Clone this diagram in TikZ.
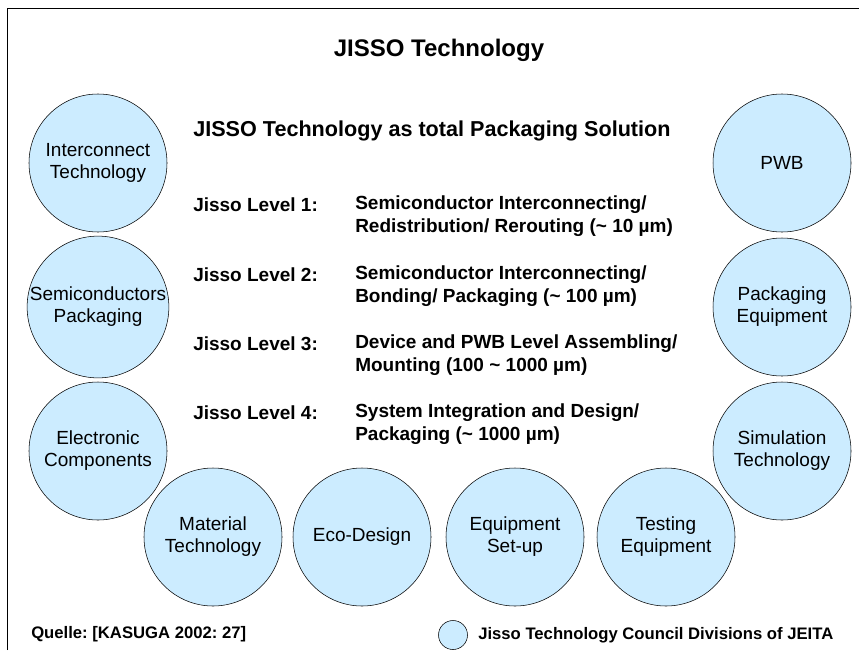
\documentclass[tikz,border=0pt]{standalone}
\usepackage{fontspec}
\setmainfont{Liberation Sans}
\frenchspacing
\definecolor{divblue}{HTML}{CCECFF}
\tikzset{
  division/.style={circle, draw, thin, fill=divblue, minimum size=103.5pt, inner sep=0pt,
    align=center, font=\fontsize{14.25}{16.5}\selectfont},
  lvlname/.style={anchor=west, inner sep=0pt, font=\bfseries\fontsize{14.25}{17.25}\selectfont},
  lvltext/.style={anchor=west, inner sep=0pt, align=left, font=\bfseries\fontsize{14.25}{17.25}\selectfont},
  smallbold/.style={anchor=west, inner sep=0pt, font=\bfseries\fontsize{12.5}{15}\selectfont},
}
\begin{document}
\begin{tikzpicture}[x=0.75pt, y=-0.75pt]
        \useasboundingbox (0,0) rectangle (859,650);
        % Frame
        \draw (7,650) -- (7,8) -- (859,8);

        % Headings
        \node (title) at (439,50) {\bfseries\fontsize{18}{21}\selectfont JISSO Technology};
        \node (subtitle) at (193,131) [anchor=west, inner sep=0pt]
            {\bfseries\fontsize{16.2}{19}\selectfont JISSO Technology as total Packaging Solution};

        % Jisso levels
        \node (l1) at (193,205) [lvlname] {Jisso Level 1:};
        \node (d1) at (355,216.5) [lvltext] {Semiconductor Interconnecting/\\Redistribution/ Rerouting (\textasciitilde{} 10 µm)};
        \node (l2) at (193,275) [lvlname] {Jisso Level 2:};
        \node (d2) at (355,286) [lvltext] {Semiconductor Interconnecting/\\Bonding/ Packaging (\textasciitilde{} 100 µm)};
        \node (l3) at (193,344) [lvlname] {Jisso Level 3:};
        \node (d3) at (355,355.5) [lvltext] {Device and PWB Level Assembling/\\Mounting (100 \textasciitilde{} 1000 µm)};
        \node (l4) at (193,413) [lvlname] {Jisso Level 4:};
        \node (d4) at (355,424.5) [lvltext] {System Integration and Design/\\Packaging (\textasciitilde{} 1000 µm)};

        % Council divisions
        \node (interconnect) at (98,163) [division] {Interconnect\\Technology};
        \node (semipack) at (98,307) [division] {Semiconductors\\Packaging};
        \node (electronic) at (98,451) [division] {Electronic\\Components};
        \node (material) at (213,537) [division] {Material\\Technology};
        \node (eco) at (362,537) [division] {Eco-Design};
        \node (setup) at (515,537) [division] {Equipment\\Set-up};
        \node (testing) at (666,537) [division] {Testing\\Equipment};
        \node (simulation) at (782,451) [division] {Simulation\\Technology};
        \node (packequip) at (782,307) [division] {Packaging\\Equipment};
        \node (pwb) at (782,163) [division] {PWB};

        % Source and legend
        \node (source) at (31,634) [smallbold] {Quelle: [KASUGA 2002: 27]};
        \node (legend) at (453,635) [division, minimum size=21.75pt] {};
        \node (legendtext) at (478,635) [smallbold] {Jisso Technology Council Divisions of JEITA};
    \end{tikzpicture}
\end{document}
